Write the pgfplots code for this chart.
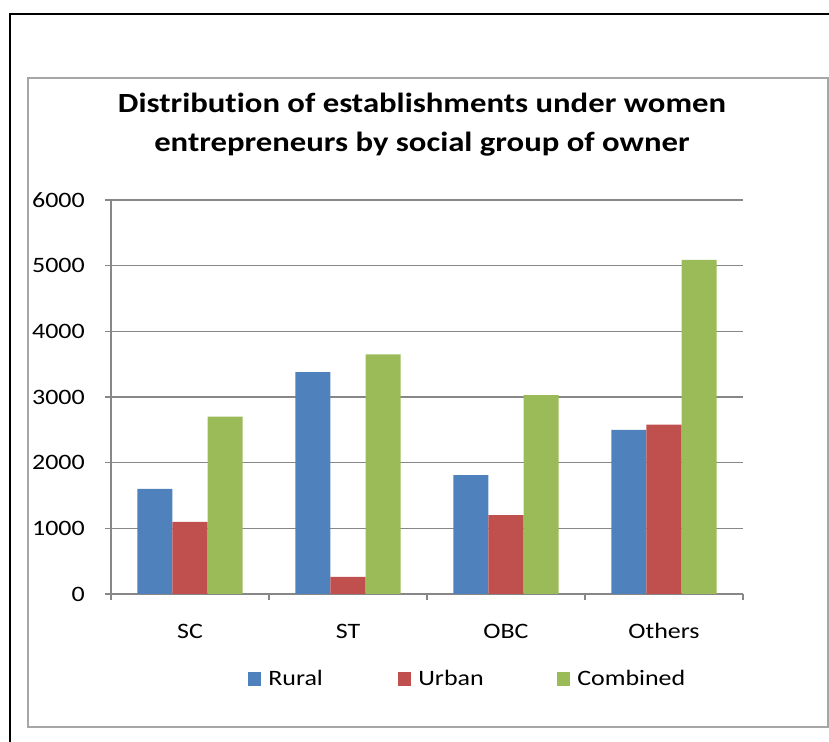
\documentclass[border=0pt]{standalone}
\usepackage{fontspec}
\setmainfont{Carlito}[FakeStretch=1.18, Ligatures=NoCommon]
\usepackage{pgfplots}
\pgfplotsset{compat=1.18}
\definecolor{rural}{HTML}{4F81BD}
\definecolor{urban}{HTML}{C0504D}
\definecolor{comb}{HTML}{9BBB59}
\definecolor{gridc}{HTML}{878787}
\definecolor{boxc}{HTML}{A6A6A6}
\begin{document}
\begin{tikzpicture}
\path[use as bounding box] (-83.25pt,-111pt) rectangle (538.5pt,445.5pt);
\draw[black, line width=1.5pt] (-75.75pt,-115pt) -- (-75.75pt,435pt) -- (545pt,435pt);
\draw[boxc, line width=1pt] (-62.25pt,-99.75pt) rectangle (537.75pt,387pt);
\begin{axis}[
  scale only axis, width=474pt, height=295.5pt,
  xmin=-0.5, xmax=3.5, ymin=0, ymax=6000,
  ybar=0pt, bar width=0.222,
  axis x line*=bottom, axis y line*=left,
  axis line style={gridc, line width=1pt},
  xtick={0,1,2,3}, xticklabels={SC,ST,OBC,Others},
  major x tick style={draw=none},
  minor xtick={-0.5,0.5,1.5,2.5,3.5},
  minor x tick style={gridc, line width=1pt},
  ytick={0,1000,...,6000},
  y tick style={gridc, line width=1pt},
  ymajorgrids, major grid style={gridc, line width=1pt},
  tick align=outside, major tick length=4.5pt, minor tick length=4.5pt,
  ticklabel style={font=\fontsize{16.5pt}{18pt}\selectfont, text=black},
  yticklabel style={anchor=east, inner sep=0pt, xshift=-15pt},
  xticklabel style={anchor=base, inner sep=0pt, yshift=-29.25pt},
  /pgf/number format/assume math mode=true,
  /pgf/number format/1000 sep={},
  scaled y ticks=false,
  legend columns=3,
  legend style={at={(0.2168,-0.2157)}, anchor=west, draw=none, fill=none,
    inner sep=0pt, column sep=5.25pt, nodes={inner sep=0pt},
    font=\fontsize{16.5pt}{18pt}\selectfont},
  legend image code/.code={\fill[#1] (0pt,-4.9pt) rectangle (9.75pt,4.9pt);},
]
\addplot[fill=rural, draw=none] coordinates {(0,1600) (1,3380) (2,1810) (3,2500)};
\addplot[fill=urban, draw=none] coordinates {(0,1100) (1,260) (2,1200) (3,2580)};
\addplot[fill=comb, draw=none] coordinates {(0,2700) (1,3650) (2,3030) (3,5090)};
\legend{\makebox[92.25pt][l]{Rural}, \makebox[99pt][l]{Urban}, Combined}
\end{axis}
\node[align=center, font=\bfseries\fontsize{20.8pt}{29.25pt}\selectfont, anchor=base, inner sep=0pt]
  at (233.25pt, 331.5pt) {Distribution of establishments under women\\entrepreneurs by social group of owner};
\end{tikzpicture}
\end{document}
